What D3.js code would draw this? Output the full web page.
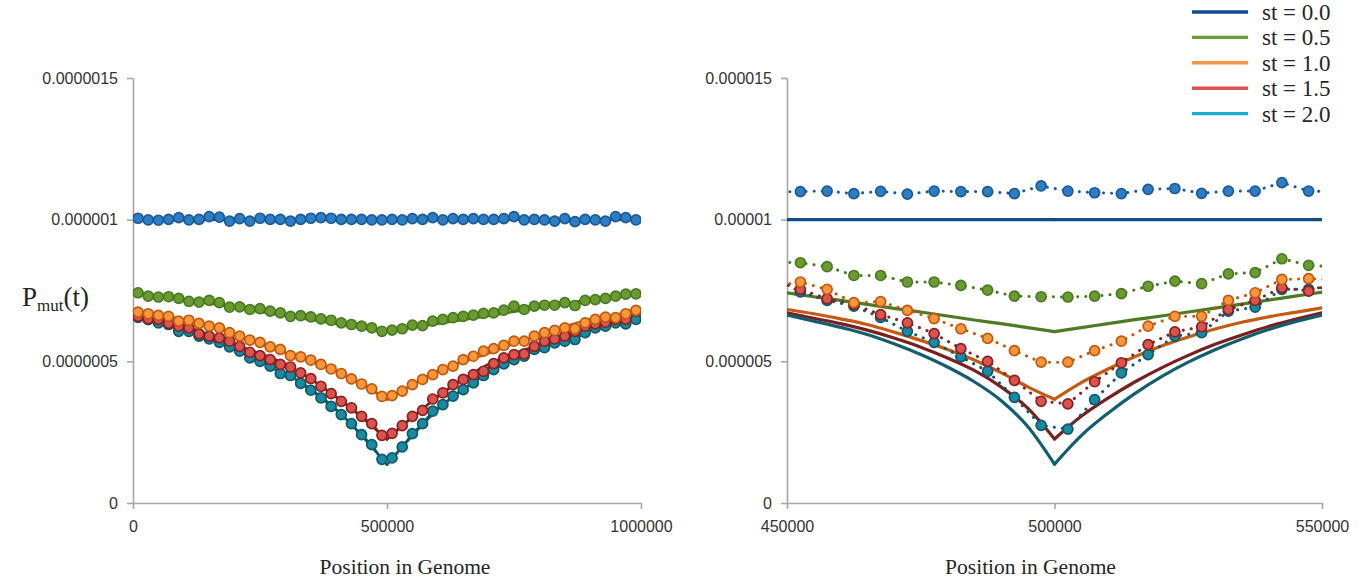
<!DOCTYPE html>
<html>
<head>
<meta charset="utf-8">
<script src="https://cdn.jsdelivr.net/npm/d3@7"></script>
<style>
  body { margin: 0; background: #fff; }
  .tick text { font-family: "Liberation Sans", Arial, sans-serif; font-size: 16px; fill: #333; }
  .axis path, .axis line { stroke: #a6a6a6; stroke-width: 1.6; }
  .title { font-family: "Liberation Serif", serif; font-size: 21.5px; fill: #262626; }
</style>
</head>
<body>
<div id="chart"></div>
<script>
var width = 1370;
var height = 582;

// legend / series names
var seriesNames = ['st = 0.0', 'st = 0.5', 'st = 1.0', 'st = 1.5', 'st = 2.0'];

// ---- left panel: whole genome, values in 1e-7 ----
var leftTickValues = [0, 5, 10, 15];
var leftTickLabels = ['0', '0.0000005', '0.000001', '0.0000015'];
var leftXTicks = [0, 500000, 1000000];
var leftXLabels = ['0', '500000', '1000000'];
var leftX = d3.range(10000, 1000000, 20000); // sampled positions

var leftBlue = [10.05, 9.99, 9.98, 10.01, 10.07, 9.99, 10.01, 10.11, 10.09, 9.95, 10.04, 9.95, 10.05, 10.01, 10.01, 9.95, 10.01, 10.05, 10.07, 10.05, 10.01, 10.01, 10.01, 9.99, 9.99, 10.01,
    9.99, 10.04, 10.01, 10.07, 9.99, 10.04, 10.01, 10.04, 10.01, 10.01, 10.04, 10.11, 9.99, 10.01, 9.99, 9.95, 10.04, 9.93, 10.01, 9.99, 9.95, 10.11, 10.07, 9.99];
var leftGreen = [7.42, 7.30, 7.27, 7.28, 7.22, 7.12, 7.09, 7.15, 7.07, 6.91, 6.92, 6.83, 6.86, 6.77, 6.71, 6.59, 6.61, 6.57, 6.50, 6.45, 6.36, 6.30, 6.24, 6.18,
    6.06, 6.10, 6.15, 6.28, 6.26, 6.42, 6.48, 6.54, 6.59, 6.63, 6.69, 6.71, 6.81, 6.95, 6.83, 6.95, 6.98, 6.98, 7.07, 6.97, 7.15, 7.18, 7.22, 7.30, 7.37, 7.38];
var leftOrange = [6.74, 6.68, 6.62, 6.59, 6.42, 6.45, 6.34, 6.24, 6.18, 6.01, 5.89, 5.75, 5.67, 5.51, 5.42, 5.20, 5.16, 5.04, 4.89, 4.73, 4.57, 4.38, 4.20, 4.03,
    3.76, 3.79, 3.95, 4.18, 4.36, 4.53, 4.71, 4.83, 5.06, 5.18, 5.36, 5.45, 5.56, 5.71, 5.71, 5.89, 6.01, 6.09, 6.18, 6.15, 6.36, 6.48, 6.56, 6.54, 6.68, 6.80];
var leftRed = [6.59, 6.50, 6.48, 6.34, 6.24, 6.18, 5.97, 5.89, 5.83, 5.71, 5.53, 5.32, 5.20, 5.06, 4.89, 4.80, 4.59, 4.39, 4.12, 3.86, 3.59, 3.36, 3.06, 2.80,
    2.39, 2.46, 2.73, 3.06, 3.27, 3.67, 3.89, 4.18, 4.36, 4.53, 4.65, 4.92, 5.12, 5.24, 5.26, 5.53, 5.71, 5.79, 5.89, 6.06, 6.24, 6.32, 6.38, 6.48, 6.48, 6.77];
var leftTeal = [6.55, 6.47, 6.36, 6.30, 6.06, 6.06, 5.89, 5.79, 5.67, 5.51, 5.36, 5.12, 5.00, 4.83, 4.57, 4.50, 4.22, 3.98, 3.71, 3.41, 3.12, 2.80, 2.41, 2.06,
    1.54, 1.59, 1.98, 2.45, 2.80, 3.24, 3.47, 3.77, 4.00, 4.24, 4.50, 4.71, 4.91, 5.06, 5.18, 5.42, 5.48, 5.65, 5.71, 5.77, 6.01, 6.18, 6.24, 6.36, 6.32, 6.48];

// theory curves, left panel
var leftTheoryX = [0, 100000, 200000, 300000, 400000, 500000, 600000, 700000, 800000, 900000, 1000000];
var leftTheoryBlue = [10, 10, 10, 10, 10, 10, 10, 10, 10, 10, 10];
var leftTheoryGreen = [7.45, 7.18, 6.90, 6.60, 6.33, 6.05, 6.33, 6.60, 6.90, 7.18, 7.45];
var leftTheoryOrange = [6.78, 6.48, 5.95, 5.28, 4.65, 3.65, 4.65, 5.28, 5.95, 6.48, 6.78];
var leftTheoryRed = [6.62, 6.25, 5.60, 4.90, 3.75, 2.24, 3.75, 4.90, 5.60, 6.25, 6.62];
var leftTheoryTeal = [6.52, 6.15, 5.45, 4.60, 3.30, 1.35, 3.30, 4.60, 5.45, 6.15, 6.52];

// ---- right panel: zoom around the centre, values in 1e-6 ----
var rightTickValues = [0, 5, 10, 15];
var rightTickLabels = ['0', '0.000005', '0.00001', '0.000015'];
var rightXTicks = [450000, 500000, 550000];
var rightXLabels = ['450000', '500000', '550000'];
var rightX = d3.range(447500, 555000, 5000); // first and last fall outside the axis

var rightBlue = [10.98, 10.99, 11.01, 10.92, 11.00, 10.90, 11.01, 10.99, 10.99, 10.92, 11.19, 11.01, 10.95, 10.92, 11.07, 11.10, 10.93, 11.01, 11.01, 11.31, 11.01, 10.98];
var rightGreen = [8.50, 8.48, 8.34, 8.03, 8.03, 7.80, 7.80, 7.68, 7.51, 7.30, 7.28, 7.27, 7.30, 7.39, 7.65, 7.83, 7.74, 8.09, 8.13, 8.62, 8.39, 8.33];
var rightOrange = [7.65, 7.80, 7.54, 7.07, 7.11, 6.80, 6.51, 6.15, 5.81, 5.38, 4.97, 4.97, 5.38, 5.71, 6.24, 6.59, 6.59, 7.15, 7.42, 7.89, 7.92, 7.86];
var rightRed = [7.90, 7.54, 7.21, 7.01, 6.65, 6.36, 5.98, 5.45, 5.00, 4.33, 3.59, 3.50, 4.28, 4.95, 5.59, 6.04, 6.22, 6.83, 7.15, 7.60, 7.48, 7.78];
var rightTeal = [7.95, 7.45, 7.15, 6.95, 6.55, 6.06, 5.67, 5.16, 4.65, 3.73, 2.74, 2.61, 3.65, 4.59, 5.24, 5.89, 6.01, 6.77, 6.91, 7.54, 7.54, 7.66];

var rightTheoryX = [450000, 455000, 460000, 465000, 470000, 475000, 480000, 485000, 490000, 495000, 500000,
    505000, 510000, 515000, 520000, 525000, 530000, 535000, 540000, 545000, 550000];
var rightTheoryBlue = [10, 10, 10, 10, 10, 10, 10, 10, 10, 10, 10, 10, 10, 10, 10, 10, 10, 10, 10, 10, 10];
var rightTheoryGreen = [7.42, 7.28, 7.15, 7.01, 6.87, 6.74, 6.60, 6.46, 6.33, 6.19, 6.05, 6.19, 6.33, 6.47, 6.60, 6.74, 6.88, 7.02, 7.16, 7.30, 7.44];
var rightTheoryOrange = [6.83, 6.68, 6.50, 6.30, 6.03, 5.74, 5.42, 5.05, 4.60, 4.10, 3.66, 4.25, 4.73, 5.16, 5.54, 5.86, 6.14, 6.38, 6.57, 6.73, 6.89];
var rightTheoryRed = [6.71, 6.52, 6.33, 6.10, 5.82, 5.50, 5.12, 4.68, 4.10, 3.35, 2.26, 3.06, 3.70, 4.27, 4.77, 5.21, 5.60, 5.93, 6.23, 6.48, 6.71];
var rightTheoryTeal = [6.63, 6.42, 6.20, 5.95, 5.62, 5.24, 4.80, 4.28, 3.62, 2.70, 1.37, 2.38, 3.17, 3.86, 4.46, 4.97, 5.41, 5.79, 6.12, 6.40, 6.63];

// colours per series: legend, theory line, marker fill, marker stroke
var legendColors = ['#0e4d8c', '#6c9a37', '#f79646', '#d9534f', '#1caad0'];
var theoryColors = ['#0d4f8b', '#4e7a22', '#c55a11', '#7a1f1f', '#135e6e'];
var fillColors = ['#2e7dc1', '#6a9a30', '#f7963c', '#d9534f', '#1a8aa0'];
var strokeColors = ['#1a5a9a', '#4a7a20', '#c0590e', '#8b2020', '#0d5a6a'];

var svg = d3.select('#chart')
    .append('svg')
    .attr('width', width)
    .attr('height', height);

function drawPanel(p) {
    var x_scale = d3.scaleLinear().domain(p.xDomain).range([p.left, p.right]);
    var y_scale = d3.scaleLinear().domain([0, 15]).range([503, 78]);

    // axes
    svg.append('g')
        .attr('class', 'axis')
        .attr('transform', `translate(${p.left}, 0)`)
        .call(d3.axisLeft(y_scale).tickValues(p.yTicks).tickSize(6).tickSizeOuter(0).tickPadding(9)
            .tickFormat((d, i) => p.yLabels[i]));

    svg.append('g')
        .attr('class', 'axis')
        .attr('transform', 'translate(0, 503)')
        .call(d3.axisBottom(x_scale).tickValues(p.xTicks).tickSize(6).tickSizeOuter(0).tickPadding(12)
            .tickFormat((d, i) => p.xLabels[i]));

    svg.append('text')
        .attr('class', 'title')
        .attr('x', (p.left + p.right) / 2 + p.titleShift)
        .attr('y', 574)
        .attr('text-anchor', 'middle')
        .text('Position in Genome');

    var clipId = 'clip' + p.left;
    svg.append('clipPath').attr('id', clipId)
        .append('rect')
        .attr('x', p.left).attr('y', 60)
        .attr('width', p.right - p.left).attr('height', 450);

    var plot = svg.append('g').attr('clip-path', `url(#${clipId})`);

    var line = d3.line().x(d => x_scale(d[0])).y(d => y_scale(d[1]));
    var smooth = d3.line().x(d => x_scale(d[0])).y(d => y_scale(d[1])).curve(d3.curveMonotoneX);

    // theory curves, drawn as two halves so the cusp stays sharp
    p.theory.forEach(function(vals, s) {
        var pts = p.theoryX.map((x, i) => [x, vals[i]]);
        var mid = (p.xDomain[0] + p.xDomain[1]) / 2;
        [pts.filter(d => d[0] <= mid), pts.filter(d => d[0] >= mid)].forEach(function(half) {
            plot.append('path')
                .attr('d', smooth(half))
                .attr('fill', 'none')
                .attr('stroke', theoryColors[s])
                .attr('stroke-width', p.theoryWidth)
                .attr('stroke-linecap', 'round');
        });
    });

    // simulated points, last series first so st = 0.0 ends on top
    for (var s = p.sims.length - 1; s >= 0; s--) {
        var pts = p.simX.map((x, i) => [x, p.sims[s][i]]);
        plot.append('path')
            .attr('d', line(pts))
            .attr('fill', 'none')
            .attr('stroke', strokeColors[s])
            .attr('stroke-width', p.dotted ? 3 : 2.2)
            .attr('stroke-linecap', 'round')
            .attr('stroke-dasharray', p.dotted ? '0.1,8' : null);

        plot.append('g').selectAll('circle')
            .data(pts.filter(d => d[0] > p.xDomain[0] && d[0] < p.xDomain[1]))
            .enter()
            .append('circle')
            .attr('cx', d => x_scale(d[0]))
            .attr('cy', d => y_scale(d[1]))
            .attr('r', p.r)
            .attr('fill', fillColors[s])
            .attr('stroke', strokeColors[s])
            .attr('stroke-width', 1.7);
    }
}

drawPanel({
    left: 133, right: 641, xDomain: [0, 1000000],
    yTicks: leftTickValues, yLabels: leftTickLabels,
    xTicks: leftXTicks, xLabels: leftXLabels,
    simX: leftX, sims: [leftBlue, leftGreen, leftOrange, leftRed, leftTeal],
    theoryX: leftTheoryX, theory: [leftTheoryBlue, leftTheoryGreen, leftTheoryOrange, leftTheoryRed, leftTheoryTeal],
    theoryWidth: 2.5, dotted: false, r: 5, titleShift: 18
});

drawPanel({
    left: 787, right: 1322, xDomain: [450000, 550000],
    yTicks: rightTickValues, yLabels: rightTickLabels,
    xTicks: rightXTicks, xLabels: rightXLabels,
    simX: rightX, sims: [rightBlue, rightGreen, rightOrange, rightRed, rightTeal],
    theoryX: rightTheoryX, theory: [rightTheoryBlue, rightTheoryGreen, rightTheoryOrange, rightTheoryRed, rightTheoryTeal],
    theoryWidth: 3.2, dotted: true, r: 5, titleShift: -24
});

// y axis title
var yTitle = svg.append('text')
    .attr('x', 22)
    .attr('y', 306)
    .attr('font-family', '"Liberation Serif", serif')
    .attr('font-size', 27)
    .attr('fill', '#262626');
yTitle.append('tspan').text('P');
yTitle.append('tspan').attr('font-size', 17).attr('dy', 5).text('mut');
yTitle.append('tspan').attr('dy', -5).text('(t)');

// legend
var legend = svg.append('g').selectAll('g')
    .data(seriesNames)
    .enter()
    .append('g')
    .attr('transform', (d, i) => `translate(1192, ${12 + i * 25.4})`);

legend.append('line')
    .attr('x1', 0).attr('x2', 56)
    .attr('stroke', (d, i) => legendColors[i])
    .attr('stroke-width', 3.4);

legend.append('text')
    .attr('x', 70)
    .attr('y', 8)
    .attr('font-family', '"Liberation Serif", serif')
    .attr('font-size', 23)
    .attr('fill', '#262626')
    .text(d => d);
</script>
</body>
</html>
